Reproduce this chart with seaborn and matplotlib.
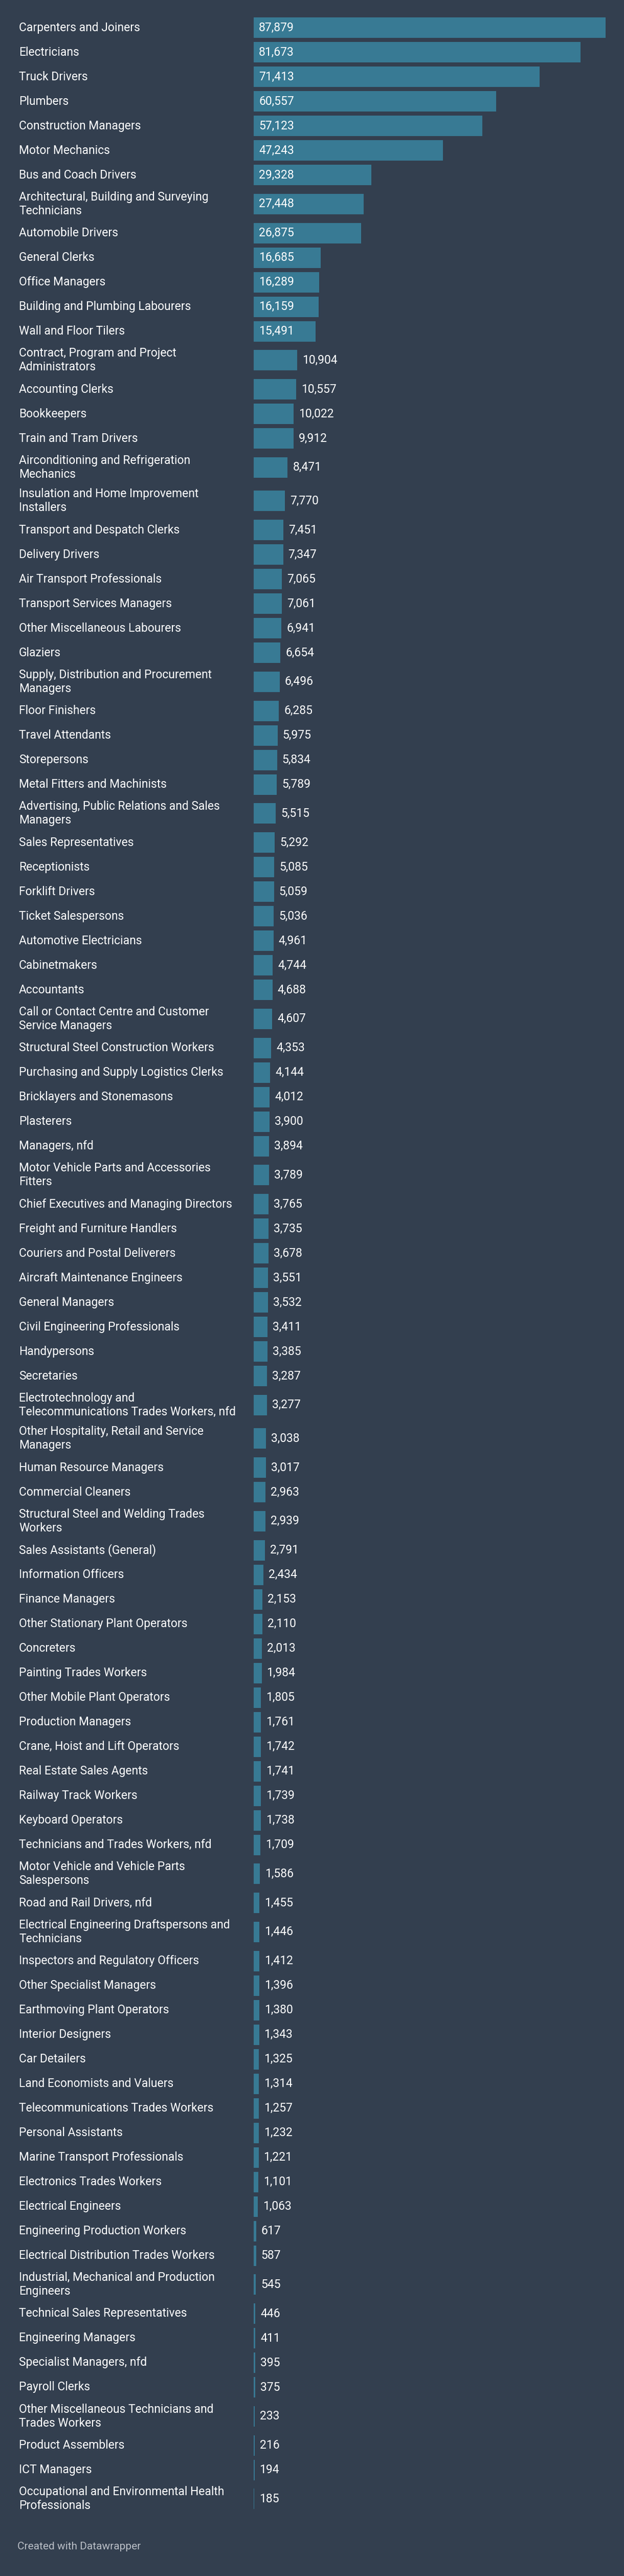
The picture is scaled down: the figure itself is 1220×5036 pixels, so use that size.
import numpy as np
import pandas as pd
import matplotlib
matplotlib.use("Agg")
import matplotlib.pyplot as plt
import matplotlib.transforms as mtransforms
import seaborn as sns

# === Data ===
occupations = [
    "Carpenters and Joiners", "Electricians", "Truck Drivers", "Plumbers",
    "Construction Managers", "Motor Mechanics", "Bus and Coach Drivers",
    "Architectural, Building and Surveying\nTechnicians", "Automobile Drivers",
    "General Clerks", "Office Managers", "Building and Plumbing Labourers",
    "Wall and Floor Tilers", "Contract, Program and Project\nAdministrators",
    "Accounting Clerks", "Bookkeepers", "Train and Tram Drivers",
    "Airconditioning and Refrigeration\nMechanics",
    "Insulation and Home Improvement\nInstallers",
    "Transport and Despatch Clerks", "Delivery Drivers",
    "Air Transport Professionals", "Transport Services Managers",
    "Other Miscellaneous Labourers", "Glaziers",
    "Supply, Distribution and Procurement\nManagers", "Floor Finishers",
    "Travel Attendants", "Storepersons", "Metal Fitters and Machinists",
    "Advertising, Public Relations and Sales\nManagers",
    "Sales Representatives", "Receptionists", "Forklift Drivers",
    "Ticket Salespersons", "Automotive Electricians", "Cabinetmakers",
    "Accountants", "Call or Contact Centre and Customer\nService Managers",
    "Structural Steel Construction Workers",
    "Purchasing and Supply Logistics Clerks", "Bricklayers and Stonemasons",
    "Plasterers", "Managers, nfd",
    "Motor Vehicle Parts and Accessories\nFitters",
    "Chief Executives and Managing Directors",
    "Freight and Furniture Handlers", "Couriers and Postal Deliverers",
    "Aircraft Maintenance Engineers", "General Managers",
    "Civil Engineering Professionals", "Handypersons", "Secretaries",
    "Electrotechnology and\nTelecommunications Trades Workers, nfd",
    "Other Hospitality, Retail and Service\nManagers",
    "Human Resource Managers", "Commercial Cleaners",
    "Structural Steel and Welding Trades\nWorkers",
    "Sales Assistants (General)", "Information Officers", "Finance Managers",
    "Other Stationary Plant Operators", "Concreters",
    "Painting Trades Workers", "Other Mobile Plant Operators",
    "Production Managers", "Crane, Hoist and Lift Operators",
    "Real Estate Sales Agents", "Railway Track Workers", "Keyboard Operators",
    "Technicians and Trades Workers, nfd",
    "Motor Vehicle and Vehicle Parts\nSalespersons",
    "Road and Rail Drivers, nfd",
    "Electrical Engineering Draftspersons and\nTechnicians",
    "Inspectors and Regulatory Officers", "Other Specialist Managers",
    "Earthmoving Plant Operators", "Interior Designers", "Car Detailers",
    "Land Economists and Valuers", "Telecommunications Trades Workers",
    "Personal Assistants", "Marine Transport Professionals",
    "Electronics Trades Workers", "Electrical Engineers",
    "Engineering Production Workers", "Electrical Distribution Trades Workers",
    "Industrial, Mechanical and Production\nEngineers",
    "Technical Sales Representatives", "Engineering Managers",
    "Specialist Managers, nfd", "Payroll Clerks",
    "Other Miscellaneous Technicians and\nTrades Workers",
    "Product Assemblers", "ICT Managers",
    "Occupational and Environmental Health\nProfessionals",
]

workers = [
    87879, 81673, 71413, 60557, 57123, 47243, 29328, 27448, 26875,
    16685, 16289, 16159, 15491, 10904, 10557, 10022, 9912, 8471, 7770,
    7451, 7347, 7065, 7061, 6941, 6654, 6496, 6285, 5975, 5834, 5789,
    5515, 5292, 5085, 5059, 5036, 4961, 4744, 4688, 4607, 4353, 4144,
    4012, 3900, 3894, 3789, 3765, 3735, 3678, 3551, 3532, 3411, 3385,
    3287, 3277, 3038, 3017, 2963, 2939, 2791, 2434, 2153, 2110, 2013,
    1984, 1805, 1761, 1742, 1741, 1739, 1738, 1709, 1586, 1455, 1446,
    1412, 1396, 1380, 1343, 1325, 1314, 1257, 1232, 1221, 1101, 1063,
    617, 587, 545, 446, 411, 395, 375, 233, 216, 194, 185,
]

footer = "Created with Datawrapper"

# === Style ===
BG = "#333f4f"
BAR = "#387a94"
TEXT = "#ffffff"
FOOT = "#b9bec6"
FONT = ["Roboto", "DejaVu Sans"]

W, H = 1220, 5036
BAR_LEFT, BAR_RIGHT = 496, 1184     # px
LABEL_X = 37
ONE_LINE, TWO_LINE = 48, 65.5       # row heights in px
BAR_H = 40
TOP = 30

# === Row layout in pixel units (uneven because of wrapped labels) ===
df = pd.DataFrame({"occupation": occupations, "workers": workers})
df["lines"] = df["occupation"].str.count("\n") + 1
df["row_h"] = np.where(df["lines"] > 1, TWO_LINE, ONE_LINE)
df["ypos"] = TOP + df["row_h"].cumsum() - df["row_h"] / 2

sns.set_theme(style="white")
plt.rcParams["font.family"] = FONT

fig = plt.figure(figsize=(W / 100, H / 100), dpi=100)
fig.patch.set_facecolor(BG)
ax = fig.add_axes([BAR_LEFT / W, 0, (BAR_RIGHT - BAR_LEFT) / W, 1])
ax.set_facecolor(BG)

sns.barplot(data=df, x="workers", y="ypos", orient="h", native_scale=True,
            color=BAR, saturation=1, width=BAR_H / ONE_LINE, errorbar=None,
            linewidth=0, ax=ax)

xmax = df["workers"].max()
ax.set_xlim(0, xmax)
ax.set_ylim(H, 0)
ax.axis("off")

px = xmax / (BAR_RIGHT - BAR_LEFT)   # data units per pixel
lab_tr = mtransforms.blended_transform_factory(fig.transFigure, ax.transData)

for _, r in df.iterrows():
    ax.text(LABEL_X / W, r["ypos"], r["occupation"], transform=lab_tr,
            ha="left", va="center", color=TEXT, fontsize=16.5,
            linespacing=1.2, clip_on=False)
    txt = f"{r['workers']:,}"
    if r["workers"] / px > 100:
        xt = 10 * px
    else:
        xt = r["workers"] + 10 * px
    ax.text(xt, r["ypos"], txt, ha="left", va="center", color=TEXT,
            fontsize=16.5, clip_on=False)

fig.text(34 / W, 1 - 4978 / H, footer, ha="left", va="center",
         color=FOOT, fontsize=15)

fig.savefig("out.png", dpi=100, facecolor=BG)
